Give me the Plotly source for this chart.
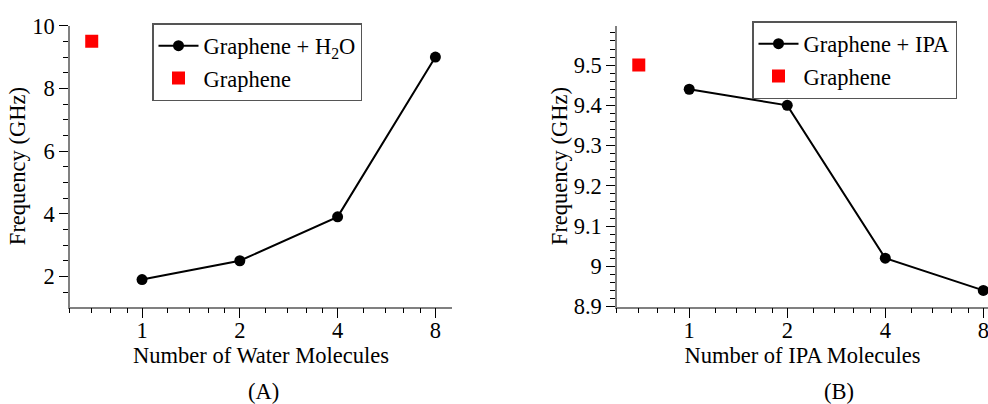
import plotly.graph_objects as go

# Resonance frequency vs. number of adsorbed molecules
n_molecules = [1, 2, 4, 8]
freq_water = [1.9, 2.5, 3.9, 9.0]
freq_ipa = [9.44, 9.40, 9.02, 8.94]

# Pristine graphene reference point
pristine_x = [0.7]
pristine_water_panel = [9.5]
pristine_ipa_panel = [9.5]

x_tickvals = [1, 2, 4, 8]
x_ticktext = ["1", "2", "4", "8"]
x_minor = [0.6, 0.7, 0.8, 0.9, 1.2, 1.4, 1.6, 1.8, 2.4, 2.8, 3.2, 3.6,
           4.8, 5.6, 6.4, 7.2]
y_ticks_water = [2, 4, 6, 8, 10]
y_ticks_ipa = [8.9, 9.0, 9.1, 9.2, 9.3, 9.4, 9.5]
y_ticktext_ipa = ["8.9", "9", "9.1", "9.2", "9.3", "9.4", "9.5"]

FONT = "Liberation Serif"
FS = 22.5
W, H = 988, 404

fig = go.Figure()

fig.add_trace(go.Scatter(
    x=n_molecules, y=freq_water, mode="lines+markers",
    name="Graphene + H<sub>2</sub>O",
    line=dict(color="black", width=2),
    marker=dict(color="black", size=11),
    xaxis="x", yaxis="y", legend="legend", cliponaxis=False,
))
fig.add_trace(go.Scatter(
    x=pristine_x, y=pristine_water_panel, mode="markers", name="Graphene",
    marker=dict(color="#ff0000", symbol="square", size=13),
    xaxis="x", yaxis="y", legend="legend",
))
fig.add_trace(go.Scatter(
    x=n_molecules, y=freq_ipa, mode="lines+markers",
    name="Graphene + IPA",
    line=dict(color="black", width=2),
    marker=dict(color="black", size=11),
    xaxis="x2", yaxis="y2", legend="legend2", cliponaxis=False,
))
fig.add_trace(go.Scatter(
    x=pristine_x, y=pristine_ipa_panel, mode="markers", name="Graphene",
    marker=dict(color="#ff0000", symbol="square", size=13),
    xaxis="x2", yaxis="y2", legend="legend2",
))

def px_x(p):
    return p / W

def px_y(p):
    return 1 - p / H

y_dom = [px_y(306.5), px_y(25.7)]

common_x = dict(
    type="log", tickmode="array", tickvals=x_tickvals, ticktext=x_ticktext,
    ticks="outside", ticklen=10, tickwidth=1, tickcolor="black",
    showline=True, linecolor="#808080", linewidth=1.5,
    showgrid=False, zeroline=False, ticklabeloverflow="allow",
    ticklabelstandoff=-7,
    tickfont=dict(family=FONT, size=FS, color="black"),
    title_font=dict(family=FONT, size=FS, color="black"),
    title_standoff=0,
    minor=dict(tickmode="array", tickvals=x_minor, ticks="outside",
               ticklen=5, tickcolor="black", tickwidth=1),
)
common_y = dict(
    ticks="outside", ticklen=9, tickwidth=1, tickcolor="black",
    showline=True, linecolor="#808080", linewidth=1.5,
    showgrid=False, zeroline=False,
    tickfont=dict(family=FONT, size=FS, color="black"),
    title_font=dict(family=FONT, size=FS, color="black"),
    title_text="Frequency (GHz)", title_standoff=0,
)

legend_style = dict(
    xanchor="left", yanchor="top",
    bordercolor="#555555", borderwidth=1.5, bgcolor="white",
    font=dict(family=FONT, size=FS, color="black"),
    tracegroupgap=0, itemwidth=40,
)

fig.update_layout(
    width=W, height=H,
    margin=dict(l=0, r=0, t=0, b=0, autoexpand=False),
    paper_bgcolor="white", plot_bgcolor="white",
    font=dict(family=FONT, size=FS, color="black"),
    xaxis=dict(common_x, domain=[px_x(70), px_x(452)],
               range=[-0.2218, 0.9542], anchor="y",
               title_text="Number of Water Molecules"),
    yaxis=dict(common_y, domain=y_dom, range=[1.04, 10.0], anchor="x",
               tickmode="array", tickvals=y_ticks_water,
               minor=dict(tickmode="linear", tick0=0, dtick=0.5,
                          ticks="outside", ticklen=5, tickcolor="black")),
    xaxis2=dict(common_x, domain=[px_x(617), 1.0],
                range=[-0.2218, 0.9175], anchor="y2",
                title_text="Number of IPA Molecules"),
    yaxis2=dict(common_y, domain=y_dom, range=[8.9, 9.598], anchor="x2",
                tickmode="array", tickvals=y_ticks_ipa,
                ticktext=y_ticktext_ipa,
                minor=dict(tickmode="linear", tick0=8.9, dtick=0.02,
                           ticks="outside", ticklen=5, tickcolor="black")),
    legend=dict(legend_style, x=px_x(152), y=px_y(23)),
    legend2=dict(legend_style, x=px_x(752), y=px_y(21)),
    showlegend=True,
)

# Panel labels
for text, xc in (("(A)", 263), ("(B)", 839)):
    fig.add_annotation(text=text, x=px_x(xc), y=px_y(391), xref="paper",
                       yref="paper", xanchor="center", yanchor="middle",
                       showarrow=False,
                       font=dict(family=FONT, size=FS, color="black"))

fig.write_html("out.html")
